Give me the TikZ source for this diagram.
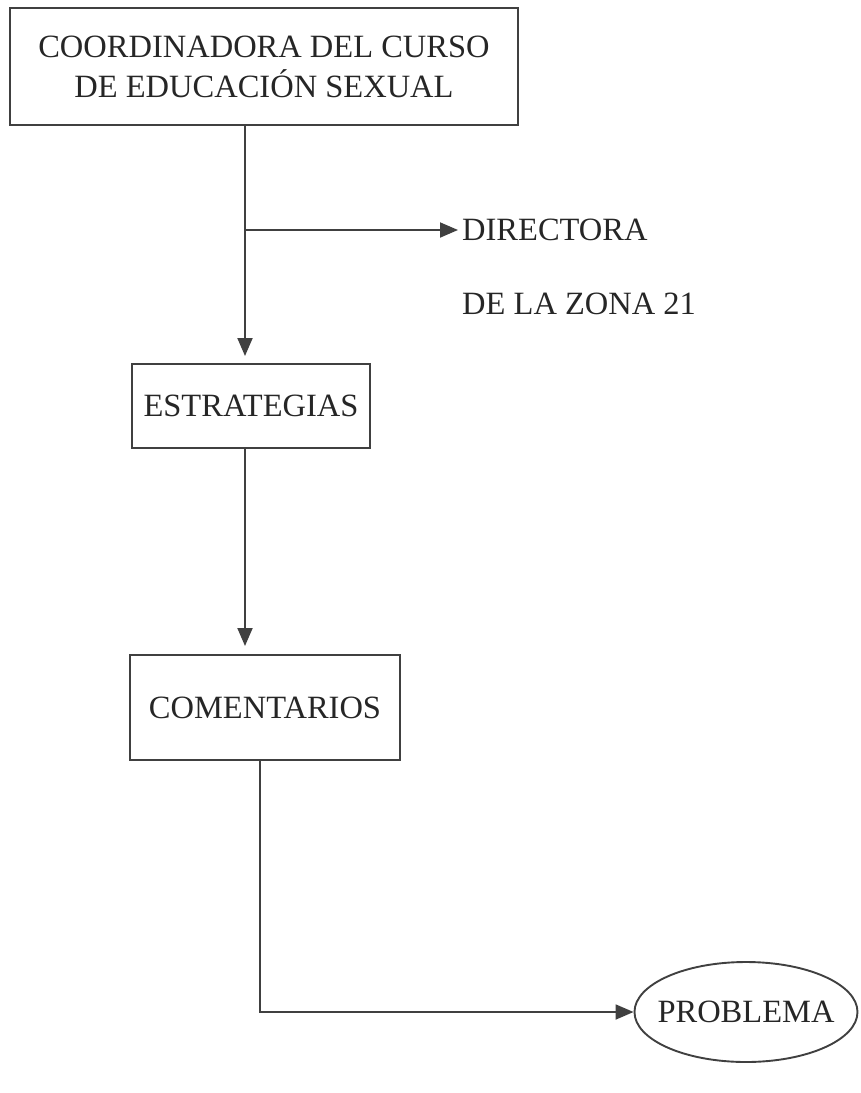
\documentclass[tikz,border=0pt]{standalone}
\usepackage{fontspec}
\setmainfont{Liberation Serif}
\usetikzlibrary{arrows.meta,shapes.geometric}
\begin{document}
\begin{tikzpicture}[x=1pt,y=-1pt,
  every node/.style={text=black!85},
  boxnode/.style={draw=black!75, line width=1.9pt, inner sep=0pt, align=center, font=\fontsize{32.5}{40}\selectfont},
  lbl/.style={inner sep=0pt, anchor=base west, font=\fontsize{32.5}{36}\selectfont},
  arr/.style={draw=black!75, line width=1.9pt, -{Triangle[length=18pt,width=15pt]}}]
\useasboundingbox (0,0) rectangle (861,1093);
\node[boxnode, minimum width=508pt, minimum height=117pt] (coord) at (264,66.5) {COORDINADORA DEL CURSO\\DE EDUCACIÓN SEXUAL};
\node[lbl] (dir) at (462,240) {DIRECTORA};
\node[lbl] (zona) at (462,314) {DE LA ZONA 21};
\node[boxnode, minimum width=238pt, minimum height=84pt] (estr) at (251,406) {ESTRATEGIAS};
\node[boxnode, minimum width=270pt, minimum height=105pt] (comm) at (265,707.5) {COMENTARIOS};
\node[boxnode, ellipse, inner xsep=-25pt, inner ysep=0pt, minimum width=223pt, minimum height=100pt] (prob) at (746,1012) {PROBLEMA};
\coordinate (br) at (245,230);
\coordinate (t1) at (245,356);
\coordinate (t2) at (245,646);
\draw[arr] (coord.south -| br) -- (t1);
\draw[arr] (br) -- ([xshift=-4pt]dir.west |- br);
\draw[arr] (estr.south -| br) -- (t2);
\draw[arr] ([xshift=-5pt]comm.south) |- (prob.west);
\end{tikzpicture}
\end{document}
